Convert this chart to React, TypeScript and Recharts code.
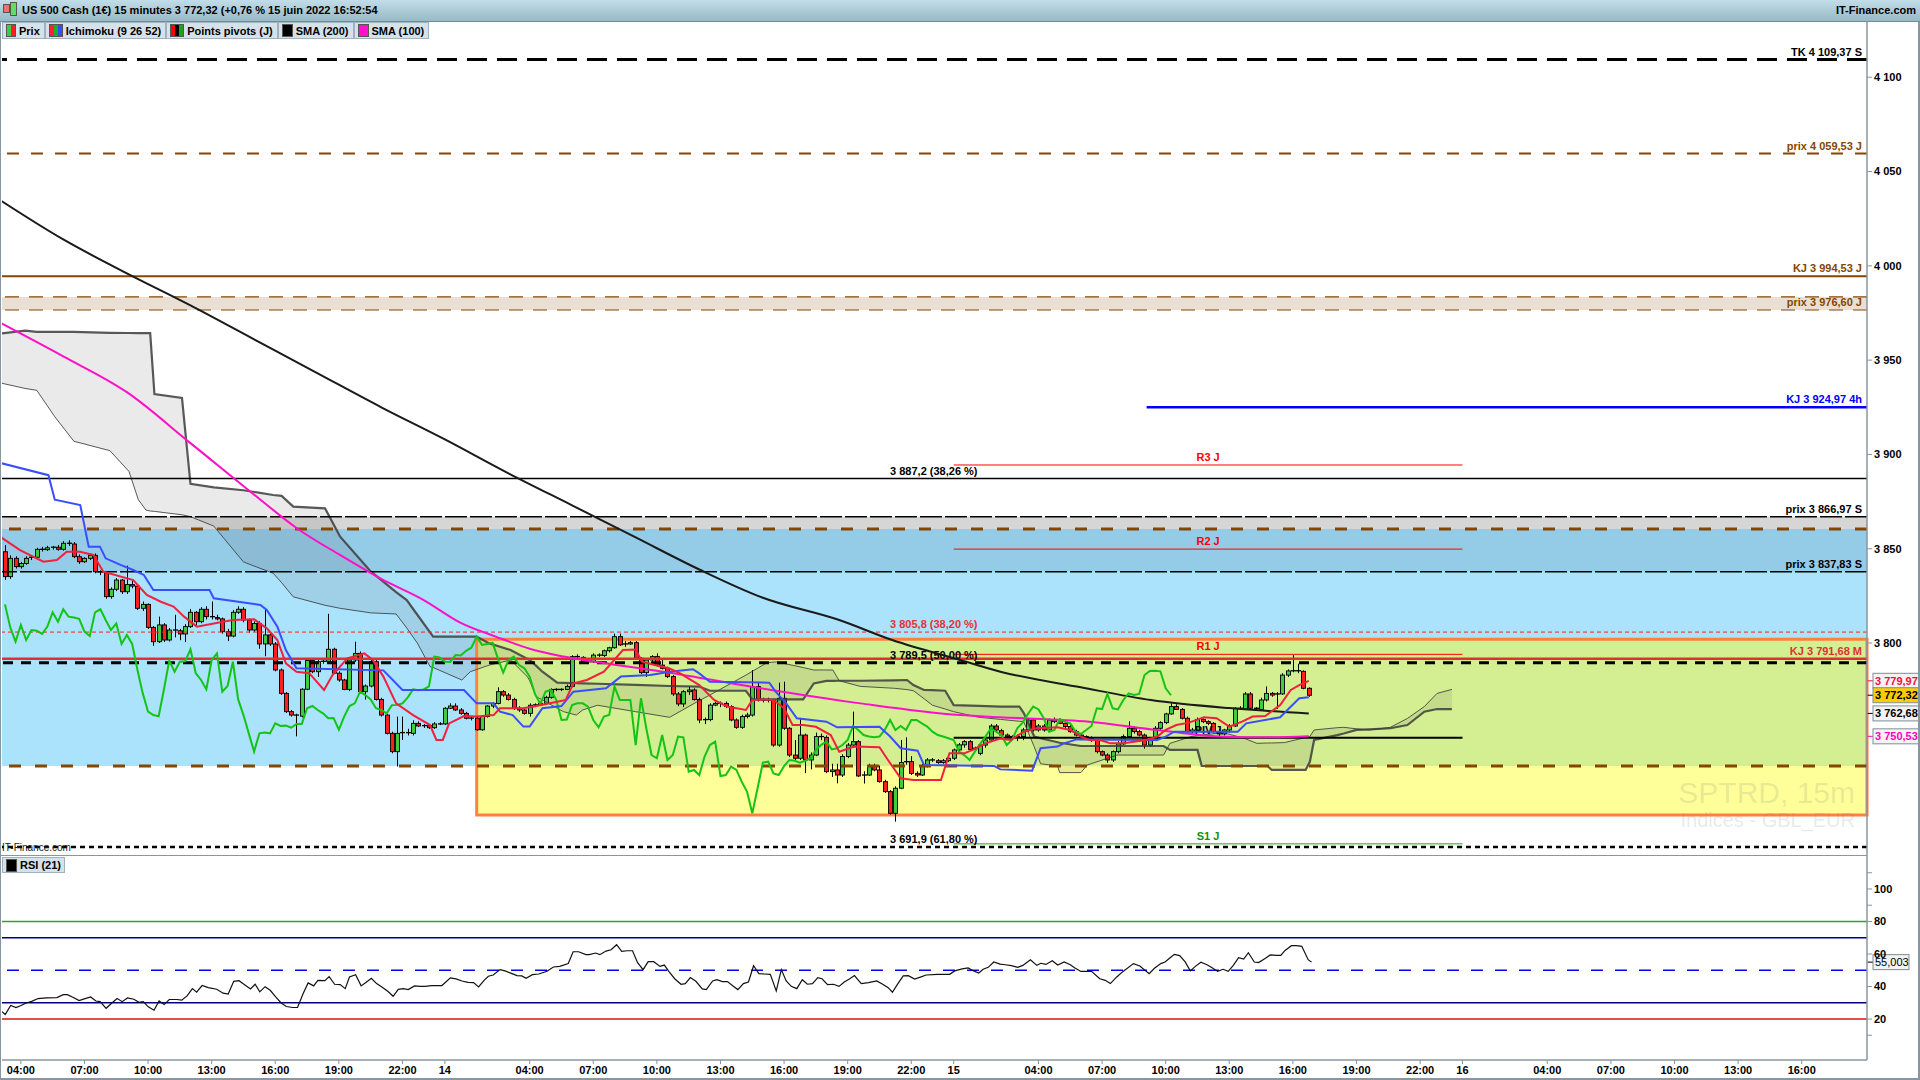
import React from 'react';
import {
  ComposedChart,
  Bar,
  Line,
  Area,
  XAxis,
  YAxis,
  ReferenceLine,
  ReferenceArea,
} from 'recharts';

const FONT = 'Arial, "Liberation Sans", sans-serif';

// x axis: hours counted from 13 June 2022 00:00
const xDomain = [3.11, 91.08];
const timeTicks = [4, 7, 10, 13, 16, 19, 22, 24, 28, 31, 34, 37, 40, 43, 46, 48, 52, 55, 58, 61, 64, 67, 70, 72, 76, 79, 82, 85, 88];
const priceDomain = [3687.6, 4129.3];
const priceTicks = [3800, 3850, 3900, 3950, 4000, 4050, 4100];
const rsiDomain = [-5.2, 120.9];
const rsiTicks = [10, 20, 40, 60, 80, 90, 100, 110];
const rsiLabelled = [20, 40, 60, 80, 100];

// 15 minute candles, first one at 03:15 on the 13th
const firstBarHour = 3.25;
const barHours = 0.25;
// [open, high, low, close]
const candles = [
  [3848.4, 3852, 3833.5, 3835.2], [3835.2, 3846.5, 3834, 3844.9], [3844.9, 3846, 3839.5, 3840.5], [3840.5, 3843, 3839.5, 3842.2],
  [3842.2, 3846, 3841.5, 3844.9], [3844.9, 3846.5, 3844, 3845.5], [3845.5, 3850.5, 3845, 3849.7], [3849.7, 3851, 3848.5, 3849.5],
  [3849.5, 3851.5, 3848.8, 3850.5], [3850.5, 3851.5, 3849.5, 3850.8], [3850.8, 3852, 3849, 3849.7], [3849.7, 3854, 3849, 3852.9],
  [3852.9, 3854.5, 3851.5, 3852.5], [3852.5, 3853.5, 3845, 3845.8], [3845.8, 3847, 3842, 3843.1], [3843.1, 3845.5, 3842.5, 3844.9],
  [3844.9, 3847.5, 3844, 3846.5], [3846.5, 3847.5, 3837, 3837.8], [3837.8, 3838.5, 3836, 3837.2], [3837.2, 3838, 3823.5, 3824.6],
  [3824.6, 3829.5, 3823.5, 3828.5], [3828.5, 3834.5, 3827.5, 3833.4], [3833.4, 3834, 3826, 3827.2], [3827.2, 3841, 3826, 3831],
  [3831, 3833, 3829, 3830.2], [3830.2, 3831, 3817.5, 3818.4], [3818.4, 3822, 3817, 3820.5], [3820.5, 3821, 3807.5, 3808.3],
  [3808.3, 3809, 3798.5, 3800.7], [3800.7, 3814, 3800, 3809.6], [3809.6, 3810.5, 3800.5, 3801.6], [3801.6, 3808, 3800.8, 3806.9],
  [3806.9, 3815, 3803, 3806.5], [3806.5, 3807.5, 3801.5, 3804.8], [3804.8, 3810, 3800.5, 3808.7], [3808.7, 3818, 3808, 3816.3],
  [3816.3, 3817, 3809, 3811.3], [3811.3, 3819, 3810.5, 3817.9], [3817.9, 3819.5, 3812.5, 3814], [3814, 3822, 3812.5, 3813.5],
  [3813.5, 3815, 3812, 3812.8], [3812.8, 3813.5, 3805, 3806], [3806, 3807.5, 3801, 3803.7], [3803.7, 3817.5, 3803, 3816.3],
  [3816.3, 3819.5, 3815.5, 3817.9], [3817.9, 3819, 3811, 3812.2], [3812.2, 3813, 3805.5, 3806.9], [3806.9, 3811.5, 3806, 3810.4],
  [3810.4, 3811.5, 3797, 3799.5], [3799.5, 3818, 3793, 3804.3], [3804.3, 3805, 3798.5, 3799.5], [3799.5, 3800.5, 3785, 3785.7],
  [3785.7, 3786.5, 3772.5, 3773.3], [3773.3, 3774, 3763, 3763.6], [3763.6, 3764.5, 3761, 3761.8], [3761.8, 3762.5, 3750.5, 3761.2],
  [3761.2, 3776, 3760.5, 3775.5], [3775.5, 3791.5, 3775, 3790.7], [3790.7, 3792, 3784, 3784.8], [3784.8, 3791, 3782, 3790.1],
  [3790.1, 3791.5, 3789, 3790.3], [3790.3, 3815.5, 3789.5, 3796.7], [3796.7, 3797.5, 3783.5, 3784], [3784, 3785, 3779.5, 3780.4],
  [3780.4, 3781, 3775, 3775.4], [3775.4, 3791.5, 3774.5, 3791], [3791, 3800.7, 3790, 3794.5], [3794.5, 3795.5, 3773, 3774.2],
  [3774.2, 3778, 3770, 3777.2], [3777.2, 3791, 3776.5, 3790.1], [3790.1, 3791, 3769.5, 3770.1], [3770.1, 3771, 3761, 3761.8],
  [3761.8, 3762.5, 3751.5, 3752.1], [3752.1, 3753, 3741.5, 3742.4], [3742.4, 3761, 3734.5, 3752.1], [3752.1, 3761, 3748.6, 3752.5],
  [3752.5, 3754.5, 3751, 3752.1], [3752.1, 3759, 3751, 3757.4], [3757.4, 3758.5, 3755.5, 3756], [3756, 3757, 3755, 3756.2],
  [3756.2, 3757, 3754.5, 3755.1], [3755.1, 3758, 3754.5, 3757.1], [3757.1, 3758, 3756.5, 3757.1], [3757.1, 3766, 3756.5, 3765.4],
  [3765.4, 3768, 3765, 3766.6], [3766.6, 3768, 3764, 3764.5], [3764.5, 3765.5, 3762, 3762.7], [3762.7, 3763.5, 3759.5, 3760.1],
  [3760.1, 3761, 3759, 3760.2], [3760.2, 3761, 3753.5, 3754], [3754, 3761.5, 3753.5, 3761], [3761, 3767, 3760.5, 3766.6],
  [3766.6, 3768.5, 3765.5, 3768], [3768, 3776.5, 3767.5, 3774.2], [3774.2, 3775, 3771.5, 3772.4], [3772.4, 3773.5, 3769.5, 3770.1],
  [3770.1, 3771, 3764.5, 3765.4], [3765.4, 3766.5, 3763.5, 3764.5], [3764.5, 3765.5, 3762, 3762.7], [3762.7, 3768, 3761, 3767],
  [3767, 3768, 3766, 3767.2], [3767.2, 3769, 3767, 3768], [3768, 3772, 3767.5, 3771.2], [3771.2, 3776, 3770.5, 3775.4],
  [3775.4, 3776, 3774.5, 3775], [3775, 3776, 3774.5, 3775.4], [3775.4, 3778, 3775, 3777], [3777, 3793.5, 3776.5, 3792.8],
  [3792.8, 3794, 3791.5, 3792.4], [3792.4, 3793, 3789.5, 3790.1], [3790.1, 3791, 3789, 3790], [3790, 3794.5, 3789.5, 3793.6],
  [3793.6, 3794.5, 3792.5, 3793.4], [3793.4, 3796.5, 3792.5, 3795.9], [3795.9, 3798, 3795, 3797.5], [3797.5, 3805, 3797, 3803.4],
  [3803.4, 3805, 3798.5, 3799], [3799, 3801, 3798, 3799.5], [3799.5, 3801, 3799, 3800.2], [3800.2, 3801, 3791, 3791.9],
  [3791.9, 3792.5, 3783.5, 3784.3], [3784.3, 3792, 3782, 3791], [3791, 3793.5, 3790, 3792.8], [3792.8, 3794.5, 3787.5, 3788.3],
  [3788.3, 3791.5, 3786, 3786.6], [3786.6, 3787.5, 3781.5, 3782.2], [3782.2, 3783, 3772, 3773], [3773, 3774, 3766.5, 3767.7],
  [3767.7, 3775, 3766, 3774.2], [3774.2, 3777, 3772.5, 3775.1], [3775.1, 3776, 3769.5, 3770], [3770, 3771, 3757.5, 3759.2],
  [3759.2, 3760.5, 3757, 3759.4], [3759.4, 3768, 3758.5, 3767.1], [3767.1, 3769, 3766.5, 3768], [3768, 3769, 3766, 3768],
  [3768, 3769, 3765.5, 3766.3], [3766.3, 3767, 3758.5, 3759.2], [3759.2, 3760, 3754.5, 3755.3], [3755.3, 3762, 3754.5, 3761],
  [3761, 3763, 3760, 3761.8], [3761.8, 3785.7, 3761, 3776.9], [3776.9, 3779, 3769, 3769.8], [3769.8, 3771, 3768.5, 3769.8],
  [3769.8, 3771, 3768.5, 3769.8], [3769.8, 3770.5, 3745, 3745.9], [3745.9, 3779, 3745, 3770.7], [3770.7, 3779.5, 3754, 3754.8],
  [3754.8, 3755.5, 3739.5, 3740.6], [3740.6, 3748.6, 3738, 3738.9], [3738.9, 3760, 3738, 3751.2], [3751.2, 3752, 3731, 3738],
  [3738, 3742, 3733, 3740.6], [3740.6, 3752.5, 3740, 3750.4], [3750.4, 3752, 3748.5, 3750], [3750, 3751, 3731, 3731.8],
  [3731.8, 3736, 3729, 3732.7], [3732.7, 3736, 3725.6, 3730], [3730, 3741, 3729, 3739.8], [3739.8, 3747, 3739, 3745.9],
  [3745.9, 3763.6, 3744.5, 3747.7], [3747.7, 3748.5, 3729, 3729.5], [3729.5, 3732, 3725.5, 3730], [3730, 3736, 3729.5, 3734.5],
  [3734.5, 3736, 3732, 3732.7], [3732.7, 3735, 3726, 3726.5], [3726.5, 3727.5, 3720.5, 3721.2], [3721.2, 3722, 3709, 3709.7],
  [3709.7, 3724, 3705.3, 3723], [3723, 3748.6, 3722.5, 3736.6], [3736.6, 3750, 3735.5, 3737.1], [3737.1, 3740, 3730, 3730.9],
  [3730.9, 3732, 3729, 3730], [3730, 3736, 3729.5, 3734.8], [3734.8, 3739, 3734, 3738], [3738, 3739, 3737, 3737.6],
  [3737.6, 3738.5, 3736, 3736.6], [3736.6, 3738.5, 3736, 3737.6], [3737.6, 3740, 3737, 3738.9], [3738.9, 3744, 3738, 3743.3],
  [3743.3, 3747, 3742.5, 3746], [3746, 3748.5, 3744.5, 3747.7], [3747.7, 3748.5, 3743, 3743.6], [3743.6, 3745, 3742.5, 3744.2],
  [3741.5, 3746.5, 3740.5, 3745.9], [3745.9, 3749.5, 3744.5, 3748.6], [3748.6, 3757, 3748, 3756], [3756, 3757, 3753, 3753.9],
  [3753.5, 3754.5, 3750.5, 3751.2], [3751.2, 3752, 3749.5, 3750.4], [3750.4, 3751, 3749, 3750], [3750, 3751.5, 3748, 3750.4],
  [3750.4, 3755, 3748.5, 3753.9], [3753.9, 3760, 3753, 3759.2], [3759.2, 3760, 3753, 3753.9], [3753.9, 3757, 3753, 3756],
  [3756, 3757, 3753, 3753.9], [3753.9, 3760, 3753.5, 3759.2], [3758.3, 3760.5, 3757.5, 3759.2], [3759.2, 3760, 3757, 3757.4],
  [3757.4, 3758, 3755, 3755.7], [3755.7, 3756.5, 3752.5, 3753], [3753, 3754, 3750.5, 3751.2], [3751.2, 3752, 3749.5, 3750.4],
  [3750.4, 3751, 3748.5, 3749.5], [3749.5, 3750.5, 3747.5, 3748.6], [3748.6, 3749, 3741.5, 3742.4], [3742.4, 3743, 3740, 3740.6],
  [3740.6, 3741.5, 3736.5, 3738], [3738, 3743, 3737, 3742.4], [3742.4, 3748, 3741.5, 3746.5], [3746.5, 3751.5, 3746, 3750.4],
  [3750.4, 3758.5, 3750, 3754.8], [3754.8, 3756, 3752, 3753], [3753, 3754, 3750.5, 3751.2], [3751.2, 3752, 3744, 3745.9],
  [3745.9, 3750, 3745, 3748.6], [3748.6, 3756, 3748, 3754.8], [3754.8, 3758.5, 3754, 3757.8], [3757.8, 3763, 3757, 3762.4],
  [3762.4, 3768, 3762, 3766.3], [3766.3, 3767.5, 3764.5, 3764.8], [3764.8, 3765.5, 3759.5, 3760.1], [3760.1, 3761, 3752.5, 3753],
  [3753, 3755, 3752, 3753.9], [3753.9, 3760.5, 3753.5, 3759.5], [3759.5, 3760, 3757.5, 3758.3], [3758.3, 3759, 3756.5, 3757.4],
  [3757.4, 3758, 3752.5, 3753], [3753, 3754.5, 3749.5, 3751.8], [3751.8, 3754.5, 3751, 3753.9], [3753.9, 3757, 3752.5, 3756],
  [3756, 3766, 3755.5, 3765.4], [3765.4, 3766.5, 3764.5, 3765], [3765, 3774, 3764.5, 3773], [3773, 3774, 3764.5, 3765.4],
  [3765.4, 3766, 3764, 3764.8], [3764.8, 3771, 3764, 3769.8], [3769.8, 3777, 3769, 3773.3], [3773.3, 3774, 3771.5, 3772.4],
  [3772.4, 3774, 3765, 3773], [3773, 3784, 3772.5, 3783], [3783, 3786, 3782, 3785.2], [3785.2, 3793.6, 3784.5, 3785.3],
  [3785.3, 3789, 3784, 3785], [3785, 3785.5, 3775.5, 3776], [3776, 3776.5, 3771.5, 3772.3],
];

// chikou span (green), one value per 15 minutes from 03:15 on the 13th
const chikou = [
  3820.5, 3808.3, 3800.7, 3809.6, 3801.6, 3806.9, 3806.5, 3804.8, 3808.7, 3816.3, 3811.3, 3817.9, 3814, 3813.5, 3812.8, 3806,
  3803.7, 3816.3, 3817.9, 3812.2, 3806.9, 3810.4, 3799.5, 3804.3, 3799.5, 3785.7, 3773.3, 3763.6, 3761.8, 3761.2, 3775.5, 3790.7,
  3784.8, 3790.1, 3790.3, 3796.7, 3784, 3780.4, 3775.4, 3791, 3794.5, 3774.2, 3777.2, 3790.1, 3770.1, 3761.8, 3752.1, 3742.4,
  3752.1, 3752.5, 3752.1, 3757.4, 3756, 3756.2, 3755.1, 3757.1, 3757.1, 3765.4, 3766.6, 3764.5, 3762.7, 3760.1, 3760.2, 3754,
  3761, 3766.6, 3768, 3774.2, 3772.4, 3770.1, 3765.4, 3764.5, 3762.7, 3767, 3767.2, 3768, 3771.2, 3775.4, 3775, 3775.4,
  3777, 3792.8, 3792.4, 3790.1, 3790, 3793.6, 3793.4, 3795.9, 3797.5, 3803.4, 3799, 3799.5, 3800.2, 3791.9, 3784.3, 3791,
  3792.8, 3788.3, 3786.6, 3782.2, 3773, 3767.7, 3774.2, 3775.1, 3770, 3759.2, 3759.4, 3767.1, 3768, 3768, 3766.3, 3759.2,
  3755.3, 3761, 3761.8, 3776.9, 3769.8, 3769.8, 3769.8, 3745.9, 3770.7, 3754.8, 3740.6, 3738.9, 3751.2, 3738, 3740.6, 3750.4,
  3750, 3731.8, 3732.7, 3730, 3739.8, 3745.9, 3747.7, 3729.5, 3730, 3734.5, 3732.7, 3726.5, 3721.2, 3709.7, 3723, 3736.6,
  3737.1, 3730.9, 3730, 3734.8, 3738, 3737.6, 3736.6, 3737.6, 3738.9, 3743.3, 3746, 3747.7, 3743.6, 3744.2, 3745.9, 3748.6,
  3756, 3753.9, 3751.2, 3750.4, 3750, 3750.4, 3753.9, 3759.2, 3753.9, 3756, 3753.9, 3759.2, 3759.2, 3757.4, 3755.7, 3753,
  3751.2, 3750.4, 3749.5, 3748.6, 3742.4, 3740.6, 3738, 3742.4, 3746.5, 3750.4, 3754.8, 3753, 3751.2, 3745.9, 3748.6, 3754.8,
  3757.8, 3762.4, 3766.3, 3764.8, 3760.1, 3753, 3753.9, 3759.5, 3758.3, 3757.4, 3753, 3751.8, 3753.9, 3756, 3765.4, 3765,
  3773, 3765.4, 3764.8, 3769.8, 3773.3, 3772.4, 3773, 3783, 3785.2, 3785.3, 3785, 3776, 3772.3,
];

// [hour, value]
const tenkan = [
  [3.02, 3856.4], [3.96, 3849.3], [5.06, 3843.1], [5.7, 3844], [6.16, 3848.4], [6.79, 3848.4], [7.42, 3846.7], [7.89, 3837.8],
  [9.3, 3833.4], [9.94, 3825.5], [10.6, 3821.9], [11.2, 3819.3], [11.7, 3814], [12.3, 3808.7], [13.1, 3810.4], [14, 3812.2],
  [15, 3812.6], [15.6, 3807.8], [16.1, 3801.6], [16.5, 3789.2], [17, 3784.8], [17.6, 3784], [18.3, 3775.1], [18.7, 3783],
  [19.4, 3791.9], [20.2, 3794.5], [20.6, 3791], [21.1, 3782.2], [21.7, 3768], [22.5, 3761.8], [23.3, 3756.5], [23.6, 3748.6],
  [23.9, 3748.6], [24.2, 3757.4], [24.9, 3761.3], [25.5, 3761], [26.3, 3761.8], [26.6, 3765.4], [27.7, 3765.4], [28.3, 3766.6],
  [29.3, 3768.9], [29.7, 3769.8], [30.06, 3778.6], [30.7, 3780.4], [31.5, 3784.8], [32.4, 3796.3], [33, 3796.6], [33.3, 3790.1],
  [33.9, 3788.3], [34.6, 3786.5], [35.1, 3783.9], [36, 3777.7], [36.7, 3769.8], [37.3, 3766.3], [38.2, 3764.5], [38.5, 3769.8],
  [39.2, 3770.1], [39.5, 3769.8], [40, 3765.4], [40.4, 3756.5], [40.9, 3756.5], [41.5, 3755.6], [42.2, 3751.2], [42.6, 3742.4],
  [43.3, 3745.1], [44.5, 3744.7], [44.9, 3738], [45.5, 3728.3], [46.1, 3727.4], [47.4, 3727.4], [47.8, 3741.5], [48.5, 3741.5],
  [48.9, 3743.3], [49.5, 3746.8], [50.2, 3749.3], [50.7, 3748.6], [51.3, 3753], [51.9, 3754.8], [52.9, 3755.3], [53.5, 3753.9],
  [54, 3750.4], [54.4, 3748.6], [54.9, 3748.6], [55.4, 3746.8], [56, 3746.8], [56.5, 3747.7], [57.1, 3748.6], [57.6, 3750.4],
  [58, 3753.9], [58.5, 3756.5], [59.1, 3757.8], [59.8, 3760.6], [60.4, 3760.1], [61, 3755.7], [61.6, 3758.3], [62.1, 3761],
  [62.7, 3761.3], [63.4, 3767.1], [63.9, 3775.1], [64.3, 3777.7], [64.75, 3779.97],
];

const kijun = [
  [3.02, 3895.5], [5.3, 3889], [5.6, 3876], [6.8, 3873.2], [7.2, 3851.1], [7.73, 3851.1], [8, 3844.9], [8.7, 3841.4],
  [9.3, 3838.7], [9.8, 3836.1], [10.25, 3828.1], [12.9, 3828.1], [13.1, 3823.7], [15.3, 3820.2], [15.6, 3817.5], [16.1, 3808.7],
  [16.5, 3796.3], [17, 3786.6], [21.1, 3785.5], [22, 3775.1], [24.9, 3775.1], [25.5, 3768], [26.3, 3768], [26.6, 3763.6],
  [27.2, 3761.8], [27.7, 3755.7], [28, 3755.7], [28.6, 3765.4], [29.5, 3766.6], [30.06, 3774.2], [31.6, 3776], [32.3, 3782.2],
  [33.7, 3783], [34.6, 3784.8], [35.7, 3786.1], [36, 3783.9], [36.5, 3779.5], [39.3, 3779], [39.6, 3774.2], [40.1, 3768],
  [40.6, 3760.1], [42, 3758.3], [42.5, 3755.3], [44.5, 3755.6], [45, 3750.4], [45.5, 3744.2], [46.3, 3742.9], [46.6, 3735.3],
  [49.9, 3734.8], [50.2, 3733], [51.7, 3732.3], [52.1, 3744.2], [52.9, 3745.1], [53.2, 3746.8], [53.8, 3748.9], [57.6, 3748.6],
  [58, 3750.4], [58.4, 3753], [61.4, 3753], [61.8, 3757.4], [63.4, 3760.6], [64.3, 3770.7], [64.75, 3771.2],
];

const sma200 = [
  [3.0, 4035], [6, 4014], [9, 3996], [12, 3979], [15, 3961], [18, 3943], [21, 3925], [24, 3908], [27, 3890], [30, 3873],
  [33, 3856], [36, 3839], [39, 3824], [42.6, 3812.2], [45.1, 3801.6], [48.3, 3791], [50.2, 3784.8], [54, 3776.5],
  [57.3, 3769.8], [61, 3765.5], [64.75, 3762.68],
];

const sma100 = [
  [3.0, 3970], [6, 3952], [9, 3933], [12, 3906], [15.3, 3876], [17, 3861], [19.05, 3846.7], [21, 3834], [23, 3822.8],
  [24.7, 3811], [26.4, 3803.4], [28, 3797], [29.6, 3792.8], [32, 3788.5], [34.3, 3784.8], [38.9, 3776], [43.6, 3768],
  [48.3, 3761.8], [50.2, 3760.6], [54.4, 3758.3], [57.6, 3753.9], [60.7, 3750.3], [63, 3750], [64.75, 3750.53],
];

// kumo: senkou span A (thin) and B (thick), read at the same hours
const cloudHours = [
  3, 4.2, 4.75, 5.6, 6.5, 8.2, 9.1, 9.54, 9.9, 10.1, 10.3, 11.6, 12.0, 13.1, 14.5, 15.9, 16.3, 16.85, 18.35, 19.06,
  20.5, 21.7, 22.2, 22.7, 23.3, 23.45, 24.8, 25.2, 25.5, 26.1, 27.1, 27.9, 28.0, 28.3, 28.6, 29.3, 29.6, 30.2, 30.5, 31.2,
  33.0, 34.6, 36.0, 36.5, 38.2, 38.5, 39.2, 39.65, 40.9, 41.4, 42.0, 42.3, 42.6, 43.6, 45.2, 45.8, 46.1, 46.6, 47.0, 47.6,
  48.0, 49.2, 50.2, 51.1, 51.3, 51.8, 52.1, 52.9, 53.0, 54.0, 54.3, 55.7, 57.9, 58.2, 59.2, 59.5, 59.7, 60.7, 61.7, 62.3,
  62.8, 63.0, 63.6, 64.6, 64.8, 65.0, 66.1, 66.4, 67.0, 67.6, 68.6, 69.4, 70.2, 70.8, 71.5,
];
const spanA = [
  3938, 3935, 3934, 3920, 3907, 3902, 3891, 3876, 3870.5, 3870, 3869.8, 3868, 3867, 3862, 3843, 3837, 3832, 3824.5, 3820, 3818.4,
  3816, 3815.4, 3808, 3800, 3787.5, 3787, 3780.4, 3784.8, 3786, 3788.3, 3791, 3782, 3780, 3771.6, 3769.8, 3765.4, 3763.6, 3761.8, 3764.5, 3767,
  3763.6, 3760.6, 3769.5, 3772.4, 3783, 3785, 3789.6, 3790, 3787, 3785.7, 3785.7, 3785.7, 3780, 3777, 3776, 3775.3, 3774.7, 3770.5, 3767, 3765,
  3763.6, 3760.6, 3759.5, 3758.5, 3758.3, 3745, 3736, 3734.8, 3731.3, 3731.3, 3735.3, 3740.6, 3740.6, 3746.8, 3750.4, 3750.9, 3751.2, 3752.5, 3749.5, 3746.8,
  3747, 3747, 3747.2, 3749.9, 3750.4, 3753.9, 3755.1, 3755.3, 3754.5, 3753.9, 3755.3, 3760, 3766.3, 3773.3, 3775.4,
];
const spanB = [
  3964, 3965.6, 3965, 3965, 3965, 3964.5, 3964.4, 3964.3, 3964.3, 3964.3, 3932, 3930, 3884.4, 3882.5, 3881, 3878.5, 3878, 3872.3, 3871.4, 3856.4,
  3838, 3827, 3822.8, 3815, 3805.7, 3803.4, 3803.4, 3803.4, 3803.4, 3799.8, 3796.3, 3791.5, 3791, 3788, 3784.8, 3779, 3778.9, 3778.7, 3778.6, 3778.4,
  3777.8, 3777.2, 3776.9, 3774.7, 3774.7, 3770.1, 3770.1, 3770.1, 3770.1, 3778.6, 3779.9, 3779.9, 3780, 3780, 3780.2, 3780.4, 3777.7, 3775.1, 3775, 3774.7,
  3767.1, 3766.7, 3766.3, 3766.3, 3763, 3750.4, 3749.5, 3747.4, 3747.1, 3745.4, 3745.4, 3745.4, 3745.4, 3743.3, 3743.3, 3743.3, 3734.8, 3734.8, 3734.8, 3734.8,
  3734.8, 3732.7, 3732.7, 3732.7, 3737, 3748.6, 3751.2, 3752, 3753.9, 3754.2, 3754.8, 3756.5, 3763.6, 3765, 3765,
];

// RSI (21), [hour, value]
const rsi = [
  [3.02, 25.4], [3.26, 22.8], [3.52, 28.3], [3.77, 27.1], [4.01, 28.3], [4.25, 29.9], [4.51, 30.9], [4.81, 32.6], [5.2, 33.0],
  [5.7, 33.2], [6.0, 35.0], [6.19, 35.0], [6.43, 33.6], [6.75, 31.4], [6.99, 32.4], [7.29, 33.6], [7.54, 31.1], [7.74, 30.7],
  [8.02, 26.6], [8.28, 29.7], [8.54, 32.6], [8.78, 30.7], [9.03, 33.0], [9.33, 32.2], [9.57, 30.3], [9.77, 30.7], [10.01, 27.5],
  [10.28, 25.4], [10.52, 31.1], [10.76, 28.9], [11.0, 32.0], [11.36, 32.0], [11.59, 31.6], [11.85, 34.4], [12.09, 38.7],
  [12.29, 36.5], [12.55, 40.6], [12.84, 39.3], [13.24, 38.3], [13.54, 35.9], [13.78, 35.4], [14.04, 43.2], [14.29, 43.6],
  [14.57, 41.0], [14.83, 38.5], [15.05, 41.4], [15.27, 36.7], [15.52, 39.9], [15.76, 37.7], [16.02, 33.6], [16.28, 29.9],
  [16.52, 27.7], [16.82, 27.1], [17.05, 27.1], [17.31, 35.6], [17.55, 42.2], [17.81, 40.4], [18.01, 43.8], [18.34, 43.6],
  [18.54, 46.1], [18.8, 41.4], [19.06, 41.2], [19.3, 38.7], [19.5, 45.9], [19.79, 47.3], [20.05, 40.4], [20.29, 42.6],
  [20.53, 45.1], [20.78, 41.8], [21.08, 39.3], [21.32, 36.9], [21.56, 34.0], [21.8, 38.3], [22.04, 38.7], [22.27, 38.1],
  [22.57, 40.4], [22.83, 40.1], [23.07, 40.1], [23.37, 40.6], [23.86, 40.6], [24.26, 45.3], [24.52, 44.7], [24.81, 43.4],
  [25.09, 42.6], [25.35, 42.4], [25.59, 39.7], [25.85, 43.8], [26.05, 46.3], [26.28, 47.1], [26.6, 50.4], [26.84, 49.6],
  [27.14, 48.1], [27.4, 46.7], [27.63, 46.5], [27.83, 45.0], [28.13, 47.3], [28.43, 47.7], [28.82, 49.4], [29.12, 52.0],
  [29.42, 52.4], [29.82, 54.1], [30.05, 61.4], [30.31, 61.4], [30.65, 59.6], [30.81, 59.6], [31.11, 60.6], [31.31, 59.6],
  [31.6, 61.8], [31.84, 62.6], [32.1, 65.7], [32.34, 61.6], [32.6, 62.0], [32.85, 62.0], [33.09, 54.7], [33.35, 50.4],
  [33.59, 55.3], [33.85, 55.3], [34.15, 52.4], [34.35, 53.2], [34.59, 48.9], [34.84, 44.8], [35.14, 41.4], [35.34, 41.8],
  [35.58, 45.5], [35.84, 43.2], [36.14, 38.5], [36.33, 38.1], [36.63, 43.4], [36.83, 44.2], [37.09, 43.0], [37.33, 43.0],
  [37.56, 40.6], [37.82, 38.1], [38.08, 41.8], [38.32, 42.8], [38.56, 52.8], [38.81, 47.9], [39.07, 47.7], [39.35, 47.5],
  [39.63, 37.3], [39.87, 50.4], [40.1, 43.4], [40.34, 40.1], [40.6, 38.7], [40.86, 44.2], [41.1, 41.4], [41.34, 41.8],
  [41.59, 45.5], [41.79, 44.8], [42.05, 41.2], [42.33, 41.4], [42.59, 40.1], [42.84, 42.8], [43.08, 44.6], [43.32, 46.7],
  [43.64, 41.8], [43.98, 42.4], [44.37, 43.4], [44.67, 41.2], [44.91, 39.3], [45.11, 36.5], [45.37, 41.8], [45.62, 46.5],
  [45.86, 46.7], [46.16, 44.6], [46.46, 45.9], [46.7, 47.1], [47.25, 47.5], [47.81, 47.5], [48.05, 49.6], [48.4, 50.8],
  [48.68, 51.4], [48.94, 49.6], [49.18, 48.3], [49.39, 50.6], [49.63, 51.8], [49.89, 55.1], [50.19, 53.8], [50.43, 53.4],
  [50.72, 52.8], [51.02, 51.8], [51.26, 53.0], [51.62, 56.5], [51.92, 53.0], [52.11, 54.3], [52.35, 53.6], [52.65, 55.9],
  [52.91, 53.2], [53.21, 55.1], [53.5, 53.4], [53.7, 51.6], [54.0, 49.3], [54.5, 49.3], [54.89, 44.8], [55.15, 43.8],
  [55.39, 41.8], [55.69, 45.9], [55.99, 49.3], [56.48, 54.1], [56.78, 52.6], [57.22, 47.9], [57.47, 51.2], [57.77, 54.1],
  [57.97, 55.1], [58.21, 57.7], [58.41, 59.8], [58.66, 59.0], [58.92, 55.1], [59.16, 49.6], [59.4, 52.4], [59.66, 54.9],
  [59.95, 53.4], [60.19, 51.6], [60.45, 49.3], [60.71, 50.6], [60.95, 49.3], [61.19, 53.0], [61.44, 57.7], [61.68, 56.9],
  [61.9, 60.8], [62.18, 55.1], [62.38, 54.7], [62.69, 57.3], [62.93, 59.4], [63.23, 59.2], [63.43, 59.2], [63.63, 62.2],
  [63.93, 65.1], [64.16, 65.1], [64.42, 64.7], [64.72, 56.5], [64.88, 55.0],
];

const candleRows = candles.map((k, i) => ({ t: firstBarHour + i * barHours, o: k[0], h: k[1], l: k[2], c: k[3] }));
const chikouRows = chikou.map((v, i) => ({ t: firstBarHour + i * barHours, v }));
const toRows = (arr: number[][]) => arr.map(([t, v]) => ({ t, v }));
const cloudRows = cloudHours.map((t, i) => ({ t, a: spanA[i], b: spanB[i] }));

const fmtPrice = (v: number) => {
  const s = v.toFixed(0);
  return s.length > 3 ? `${s.slice(0, s.length - 3)} ${s.slice(-3)}` : s;
};
const fmtTime = (h: number) => {
  if (h % 24 === 0) return String(13 + h / 24);
  const hh = h % 24;
  return `${hh < 10 ? '0' : ''}${hh}:00`;
};

const BODY_W = 4;

const Candle = (props: any) => {
  const { x, width, payload } = props;
  let { y, height } = props;
  if (!payload || height == null || x == null) return null;
  if (height < 0) {
    y += height;
    height = -height;
  }
  const { o, h, l, c } = payload;
  const k = height / Math.max(h - l, 0.01);
  const py = (v: number) => y + (h - v) * k;
  const cx = Math.round(x + (width || 0) / 2) + 0.5;
  const left = cx - BODY_W / 2;
  const top = py(Math.max(o, c));
  const bot = py(Math.min(o, c));
  const up = c >= o;
  return (
    <g>
      <line x1={cx} x2={cx} y1={y} y2={y + height} stroke="#000" strokeWidth={1} />
      {bot - top < 1.2 ? (
        <line x1={left - 0.5} x2={left + BODY_W + 0.5} y1={top} y2={top} stroke="#000" strokeWidth={1.3} />
      ) : (
        <rect x={left} y={top} width={BODY_W} height={bot - top} fill={up ? '#3fcc3f' : '#ff1f1f'} stroke="#000" strokeWidth={0.9} />
      )}
    </g>
  );
};

const LevelText = (props: any) => {
  const { viewBox, text, color, anchor = 'end' } = props;
  if (!viewBox) return null;
  const { x, y, width } = viewBox;
  const tx = anchor === 'end' ? x + width - 5 : anchor === 'middle' ? x + width / 2 : x;
  return (
    <text x={tx} y={y - 4} textAnchor={anchor} fill={color} fontSize={11} fontWeight="bold" fontFamily={FONT}>
      {text}
    </text>
  );
};

const PriceTag = (props: any) => {
  const { viewBox, text, color, bg = '#f3f3f3', w = 46, bold = true } = props;
  if (!viewBox) return null;
  const { x, y, width } = viewBox;
  const right = x + width;
  return (
    <g>
      <line x1={right} x2={right + 6} y1={y} y2={y} stroke={color} strokeWidth={1} />
      <rect x={right + 6} y={y - 7.5} width={w} height={15} fill={bg} stroke="#7d8d99" strokeWidth={1} />
      <text x={right + 8} y={y + 4} fill={color} fontSize={11} fontWeight={bold ? 'bold' : 'normal'} fontFamily={FONT}>
        {text}
      </text>
    </g>
  );
};

const axisTick = { fontSize: 11, fontWeight: 'bold', fill: '#000', fontFamily: FONT };
const axisGrey = '#8796a1';
const BROWN = '#854600';

const Swatch = ({ colors }: { colors: string[] }) => (
  <span style={{ display: 'inline-flex', height: 11, marginRight: 3, border: '1px solid #555' }}>
    {colors.map((c, i) => (
      <span key={i} style={{ width: colors.length > 1 ? 4 : 9, height: 11, background: c }} />
    ))}
  </span>
);

const legendItems = [
  { label: 'Prix', colors: ['#3fcc3f', '#ff1f1f'] },
  { label: 'Ichimoku (9 26 52)', colors: ['#ff2040', '#20b020', '#3050ff'] },
  { label: 'Points pivots (J)', colors: ['#ff0000', '#000000', '#20a020'] },
  { label: 'SMA (200)', colors: ['#000000'] },
  { label: 'SMA (100)', colors: ['#ff10c8'] },
];

export default function App() {
  return (
    <div style={{ position: 'absolute', left: 0, top: 0, width: 1920, height: 1080, background: '#fff', overflow: 'hidden', fontFamily: FONT }}>
      {/* title bar */}
      <div
        style={{
          position: 'absolute', left: 0, top: 0, width: 1920, height: 21,
          background: 'linear-gradient(#c2dde8, #98b9c6)', borderBottom: '1px solid #6f8d9b',
          fontSize: 11, fontWeight: 'bold', lineHeight: '21px', color: '#000',
        }}
      >
        <span style={{ position: 'absolute', left: 3, top: 4, width: 5, height: 7, background: '#f07070', border: '1px solid #555' }} />
        <span style={{ position: 'absolute', left: 10, top: 2, width: 5, height: 12, background: '#60e060', border: '1px solid #555' }} />
        <span style={{ position: 'absolute', left: 22 }}>US 500 Cash (1€) 15 minutes 3 772,32 (+0,76 % 15 juin 2022 16:52:54</span>
        <span style={{ position: 'absolute', right: 4 }}>IT-Finance.com</span>
      </div>

      {/* price panel */}
      <div style={{ position: 'absolute', left: 0, top: 22 }}>
        <ComposedChart width={1920} height={833} data={candleRows} margin={{ top: 0, right: 0, bottom: 0, left: 2 }}>
          <XAxis type="number" dataKey="t" domain={xDomain} allowDataOverflow hide />
          <YAxis
            orientation="right" width={53} domain={priceDomain} allowDataOverflow ticks={priceTicks}
            tickFormatter={fmtPrice} tick={axisTick} tickSize={5} tickMargin={2}
            axisLine={{ stroke: axisGrey, strokeWidth: 1.5 }} tickLine={{ stroke: axisGrey }}
          />

          {/* zones */}
          <ReferenceArea y1={3734.8} y2={3837.83} fill="#abe2fc" fillOpacity={1} stroke="none" />
          <ReferenceArea y1={3837.83} y2={3860.4} fill="#94cbe7" fillOpacity={1} stroke="none" />
          <ReferenceArea y1={3860.4} y2={3866.97} fill="#d6d6d6" fillOpacity={1} stroke="none" />
          <ReferenceArea y1={3976.6} y2={3983.5} fill="#e9dfd5" fillOpacity={1} stroke="none" />
          <ReferenceArea x1={25.5} x2={xDomain[1]} y1={3708.8} y2={3734.8} fill="#ffff99" fillOpacity={1} stroke="none" />
          <ReferenceArea x1={25.5} x2={xDomain[1]} y1={3734.8} y2={3802} fill="#d4ee92" fillOpacity={1} stroke="none" />

          {/* kumo */}
          <Area data={cloudRows} dataKey={(d: any) => [d.a, d.b]} type="linear" stroke="none" fill="#5a5a5a" fillOpacity={0.13} isAnimationActive={false} />
          <Line data={cloudRows} dataKey="a" type="linear" dot={false} stroke="#3c3c3c" strokeWidth={1} strokeOpacity={0.85} isAnimationActive={false} />
          <Line data={cloudRows} dataKey="b" type="linear" dot={false} stroke="#3c3c3c" strokeWidth={2.2} strokeOpacity={0.85} isAnimationActive={false} />

          {/* levels */}
          <ReferenceLine y={4109.37} stroke="#000" strokeWidth={3} strokeDasharray="20 10" label={<LevelText text="TK 4 109,37 S" color="#000" />} />
          <ReferenceLine y={4059.53} stroke={BROWN} strokeWidth={2} strokeDasharray="12 12" label={<LevelText text="prix 4 059,53 J" color={BROWN} />} />
          <ReferenceLine y={3994.53} stroke={BROWN} strokeWidth={2} label={<LevelText text="KJ 3 994,53 J" color={BROWN} />} />
          <ReferenceLine y={3983.5} stroke={BROWN} strokeWidth={1.2} strokeDasharray="14 10" />
          <ReferenceLine y={3976.6} stroke={BROWN} strokeWidth={1.2} strokeDasharray="14 10" label={<LevelText text="prix 3 976,60 J" color={BROWN} />} />
          <ReferenceLine segment={[{ x: 57.1, y: 3924.97 }, { x: xDomain[1], y: 3924.97 }]} stroke="#0000ff" strokeWidth={2.5} label={<LevelText text="KJ 3 924,97 4h" color="#0000ff" />} />
          <ReferenceLine segment={[{ x: 48, y: 3894.4 }, { x: 72, y: 3894.4 }]} stroke="#ff0000" strokeWidth={1} label={<LevelText text="R3 J" color="#ff0000" anchor="middle" />} />
          <ReferenceLine y={3887.2} stroke="#000" strokeWidth={1.5} />
          <ReferenceLine segment={[{ x: 45.0, y: 3887.2 }, { x: 60, y: 3887.2 }]} strokeOpacity={0} label={<LevelText text="3 887,2 (38,26 %)" color="#000" anchor="start" />} />
          <ReferenceLine y={3866.97} stroke="#000" strokeWidth={1.5} strokeDasharray="22 3" label={<LevelText text="prix 3 866,97 S" color="#000" />} />
          <ReferenceLine y={3860.4} stroke={BROWN} strokeWidth={3} strokeDasharray="12 14" />
          <ReferenceLine segment={[{ x: 48, y: 3849.8 }, { x: 72, y: 3849.8 }]} stroke="#ff0000" strokeWidth={1} label={<LevelText text="R2 J" color="#ff0000" anchor="middle" />} />
          <ReferenceLine y={3837.83} stroke="#000" strokeWidth={1.5} strokeDasharray="22 3" label={<LevelText text="prix 3 837,83 S" color="#000" />} />
          <ReferenceLine y={3805.8} stroke="#ff2020" strokeWidth={1} strokeDasharray="4 3" />
          <ReferenceLine segment={[{ x: 45.0, y: 3805.8 }, { x: 60, y: 3805.8 }]} strokeOpacity={0} label={<LevelText text="3 805,8 (38,20 %)" color="#e83030" anchor="start" />} />
          <ReferenceArea x1={25.5} x2={xDomain[1]} y1={3708.8} y2={3802} fill="none" fillOpacity={0} stroke="#ff8040" strokeWidth={3} />
          <ReferenceLine segment={[{ x: 48, y: 3794 }, { x: 72, y: 3794 }]} stroke="#ff0000" strokeWidth={1} label={<LevelText text="R1 J" color="#ff0000" anchor="middle" />} />
          <ReferenceLine y={3791.68} stroke="#e03030" strokeWidth={2.5} label={<LevelText text="KJ 3 791,68 M" color="#e03030" />} />
          <ReferenceLine y={3789.5} stroke="#000" strokeWidth={3} strokeDasharray="10 8" />
          <ReferenceLine segment={[{ x: 45.0, y: 3789.5 }, { x: 60, y: 3789.5 }]} strokeOpacity={0} label={<LevelText text="3 789,5 (50,00 %)" color="#000" anchor="start" />} />
          <ReferenceLine segment={[{ x: 48, y: 3749.8 }, { x: 72, y: 3749.8 }]} stroke="#000" strokeWidth={2} label={<LevelText text="PIV J" color="#000" anchor="middle" />} />
          <ReferenceLine y={3734.8} stroke={BROWN} strokeWidth={3} strokeDasharray="12 14" />
          <ReferenceLine segment={[{ x: 48, y: 3693.5 }, { x: 72, y: 3693.5 }]} stroke="#20a020" strokeWidth={1} label={<LevelText text="S1 J" color="#109010" anchor="middle" />} />
          <ReferenceLine y={3691.9} stroke="#000" strokeWidth={2.5} strokeDasharray="5 4" />
          <ReferenceLine segment={[{ x: 45.0, y: 3691.9 }, { x: 60, y: 3691.9 }]} strokeOpacity={0} label={<LevelText text="3 691,9 (61,80 %)" color="#000" anchor="start" />} />

          {/* moving averages and ichimoku lines */}
          <Line data={toRows(sma200)} dataKey="v" type="monotone" dot={false} stroke="#1a1a1a" strokeWidth={2} isAnimationActive={false} />
          <Line data={toRows(sma100)} dataKey="v" type="monotone" dot={false} stroke="#ff10c8" strokeWidth={2} isAnimationActive={false} />
          <Line data={chikouRows} dataKey="v" type="linear" dot={false} stroke="#14c414" strokeWidth={2} isAnimationActive={false} />

          <Bar dataKey={(d: any) => [d.l, d.h]} barSize={4} shape={(p: any) => <Candle {...p} />} isAnimationActive={false} />

          <Line data={toRows(kijun)} dataKey="v" type="linear" dot={false} stroke="#3a4dff" strokeWidth={2} isAnimationActive={false} />
          <Line data={toRows(tenkan)} dataKey="v" type="linear" dot={false} stroke="#f2203e" strokeWidth={2} isAnimationActive={false} />

          {/* last values on the axis */}
          <ReferenceLine y={3779.97} strokeOpacity={0} label={<PriceTag text="3 779,97" color="#f0103a" />} />
          <ReferenceLine y={3772.32} strokeOpacity={0} label={<PriceTag text="3 772,32" color="#000" bg="#ffcc00" />} />
          <ReferenceLine y={3762.68} strokeOpacity={0} label={<PriceTag text="3 762,68" color="#000" />} />
          <ReferenceLine y={3750.53} strokeOpacity={0} label={<PriceTag text="3 750,53" color="#ff00c0" />} />
        </ComposedChart>
      </div>

      {/* legend row */}
      <div style={{ position: 'absolute', left: 2, top: 22, height: 16, display: 'flex' }}>
        {legendItems.map((it) => (
          <div
            key={it.label}
            style={{
              display: 'flex', alignItems: 'center', padding: '0 4px 0 3px', height: 15,
              background: '#d5e2e9', border: '1px solid #9fb2bd', fontSize: 11, fontWeight: 'bold', whiteSpace: 'nowrap',
            }}
          >
            <Swatch colors={it.colors} />
            {it.label}
          </div>
        ))}
      </div>

      {/* watermark */}
      <div style={{ position: 'absolute', right: 65, top: 776, fontSize: 30, color: 'rgba(120,120,120,0.17)', whiteSpace: 'nowrap' }}>SPTRD, 15m</div>
      <div style={{ position: 'absolute', right: 65, top: 809, fontSize: 20, color: 'rgba(120,120,120,0.17)', whiteSpace: 'nowrap' }}>Indices - GBL_EUR</div>
      <div style={{ position: 'absolute', left: 2, top: 842, fontSize: 10, color: '#222' }}>IT-Finance.com</div>

      {/* RSI panel */}
      <div style={{ position: 'absolute', left: 0, top: 855, width: 1867, height: 0, borderTop: `1px solid ${axisGrey}` }} />
      <div style={{ position: 'absolute', left: 0, top: 855 }}>
        <ComposedChart width={1920} height={225} data={toRows(rsi)} margin={{ top: 0, right: 0, bottom: 0, left: 2 }}>
          <XAxis
            type="number" dataKey="t" domain={xDomain} allowDataOverflow ticks={timeTicks} interval={0}
            tickFormatter={fmtTime} tick={axisTick} height={20} tickSize={4} tickMargin={2}
            axisLine={{ stroke: axisGrey, strokeWidth: 1.5 }} tickLine={{ stroke: axisGrey }}
          />
          <YAxis
            orientation="right" width={53} domain={rsiDomain} allowDataOverflow ticks={rsiTicks}
            tickFormatter={(v: number) => (rsiLabelled.includes(v) ? String(v) : '')}
            tick={axisTick} tickSize={5} tickMargin={2}
            axisLine={{ stroke: axisGrey, strokeWidth: 1.5 }} tickLine={{ stroke: axisGrey }}
          />
          <ReferenceLine y={80} stroke="#1cb01c" strokeWidth={1.5} />
          <ReferenceLine y={70} stroke="#000080" strokeWidth={1.5} />
          <ReferenceLine y={50} stroke="#0000ff" strokeWidth={1.5} strokeDasharray="12 12" />
          <ReferenceLine y={30} stroke="#000080" strokeWidth={1.5} />
          <ReferenceLine y={20} stroke="#e01010" strokeWidth={1.5} />
          <Line dataKey="v" type="linear" dot={false} stroke="#111" strokeWidth={1.2} isAnimationActive={false} />
          <ReferenceLine y={55.003} strokeOpacity={0} label={<PriceTag text="55,003" color="#000" bg="#f3f3f3" w={36} bold={false} />} />
        </ComposedChart>
      </div>
      <div
        style={{
          position: 'absolute', left: 2, top: 857, display: 'flex', alignItems: 'center', height: 14, padding: '0 3px',
          background: '#d5e2e9', border: '1px solid #9fb2bd', fontSize: 11, fontWeight: 'bold',
        }}
      >
        <Swatch colors={['#000000']} />
        RSI (21)
      </div>

      {/* frame */}
      <div style={{ position: 'absolute', left: 0, top: 22, width: 1, height: 1058, background: axisGrey }} />
      <div style={{ position: 'absolute', left: 0, top: 1078, width: 1920, height: 2, background: axisGrey }} />
      <div style={{ position: 'absolute', left: 1918, top: 22, width: 2, height: 1058, background: axisGrey }} />
    </div>
  );
}
